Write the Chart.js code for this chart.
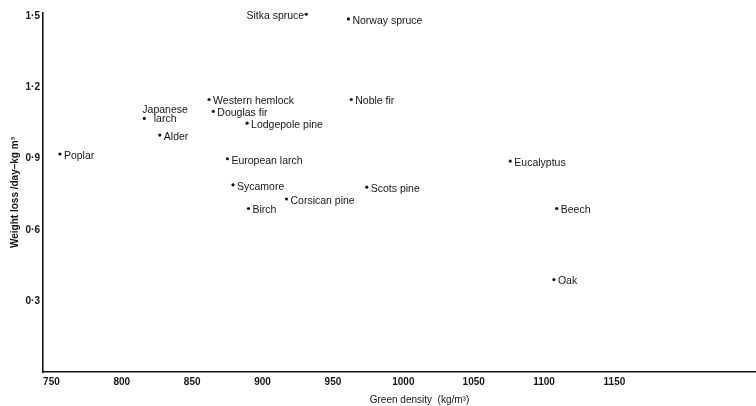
<!DOCTYPE html>
<html>
<head>
<meta charset="utf-8">
<script src="https://cdn.jsdelivr.net/npm/chart.js@4.4.0/dist/chart.umd.min.js"></script>
<style>
  html, body { margin: 0; padding: 0; background: #fff; overflow: hidden; }
  #wrap { width: 756px; height: 406px; overflow: hidden; }
  canvas { display: block; }
</style>
</head>
<body>
<div id="wrap"><canvas id="chart" width="800" height="406"></canvas></div>
<script>
// values
const species = [
  'Sitka spruce', 'Norway spruce', 'Western hemlock', 'Noble fir', 'Douglas fir',
  'Japanese larch', 'Lodgepole pine', 'Alder', 'Poplar', 'European larch',
  'Eucalyptus', 'Sycamore', 'Scots pine', 'Corsican pine', 'Birch', 'Beech', 'Oak'
];
const density = [931, 961, 862, 963, 865, 816, 889, 827, 756, 875, 1076, 879, 974, 917, 890, 1109, 1107];
const weightLoss = [1.51, 1.49, 1.15, 1.15, 1.10, 1.07, 1.05, 1.00, 0.92, 0.90, 0.89, 0.79, 0.78, 0.73, 0.69, 0.69, 0.39];

const xTicks = [750, 800, 850, 900, 950, 1000, 1050, 1100, 1150];
const yTicks = [0.3, 0.6, 0.9, 1.2, 1.5];

const INK = '#151515';
const FONT = '"Liberation Sans", Arial, sans-serif';

// label placement quirks from the original figure
const leftLabels = ['Sitka spruce'];
const wrappedLabels = { 'Japanese larch': ['Japanese', 'larch'] };

const pointLabels = {
  id: 'pointLabels',
  afterDatasetsDraw(chart) {
    const ctx = chart.ctx;
    const meta = chart.getDatasetMeta(0);
    ctx.save();
    ctx.font = '10.5px ' + FONT;
    ctx.fillStyle = INK;
    ctx.textBaseline = 'middle';
    meta.data.forEach((pt, i) => {
      const name = species[i];
      if (wrappedLabels[name]) {
        const lines = wrappedLabels[name];
        const w = Math.max(...lines.map(l => ctx.measureText(l).width));
        ctx.textAlign = 'center';
        lines.slice().reverse().forEach((l, k) => {
          ctx.fillText(l, pt.x + w / 2 - 2, pt.y + 1 - k * 9);
        });
      } else if (leftLabels.includes(name)) {
        ctx.textAlign = 'right';
        ctx.fillText(name, pt.x - 2, pt.y + 2);
      } else {
        ctx.textAlign = 'left';
        ctx.fillText(name, pt.x + 4, pt.y + 2);
      }
    });
    ctx.restore();
  }
};

new Chart(document.getElementById('chart'), {
  type: 'scatter',
  data: {
    datasets: [{
      data: species.map((s, i) => ({ x: density[i], y: weightLoss[i] })),
      pointRadius: 1.6,
      pointBackgroundColor: INK,
      pointBorderWidth: 0
    }]
  },
  options: {
    responsive: false,
    devicePixelRatio: 1,
    animation: false,
    layout: { padding: { top: 13, left: 0, right: 0, bottom: 0 } },
    plugins: {
      legend: { display: false },
      tooltip: { enabled: false }
    },
    scales: {
      x: {
        type: 'linear',
        min: 744,
        max: 1279,
        afterBuildTicks: s => { s.ticks = xTicks.map(v => ({ value: v })); },
        afterFit: s => { s.height = 34; },
        grid: { display: false, drawTicks: false },
        border: { display: true, color: INK, width: 1.6 },
        ticks: {
          color: INK,
          padding: 4,
          maxRotation: 0,
          autoSkip: false,
          font: { family: FONT, size: 10, weight: 'bold' },
          callback: v => String(v)
        },
        title: {
          display: true,
          text: 'Green density  (kg/m³)',
          color: INK,
          padding: { top: 1, bottom: 0 },
          font: { family: FONT, size: 10 }
        }
      },
      y: {
        min: 0,
        max: 1.515,
        afterBuildTicks: s => { s.ticks = yTicks.map(v => ({ value: v })); },
        afterFit: s => { s.width = 43; },
        grid: { display: false, drawTicks: false },
        border: { display: true, color: INK, width: 1.6 },
        ticks: {
          color: INK,
          padding: 3,
          font: { family: FONT, size: 10, weight: 'bold' },
          callback: v => v.toFixed(1).replace('.', '·')
        },
        title: {
          display: true,
          text: 'Weight loss /day–kg m³',
          color: INK,
          padding: { top: 9, bottom: 0 },
          font: { family: FONT, size: 10, weight: 'bold' }
        }
      }
    }
  },
  plugins: [pointLabels]
});
</script>
</body>
</html>
